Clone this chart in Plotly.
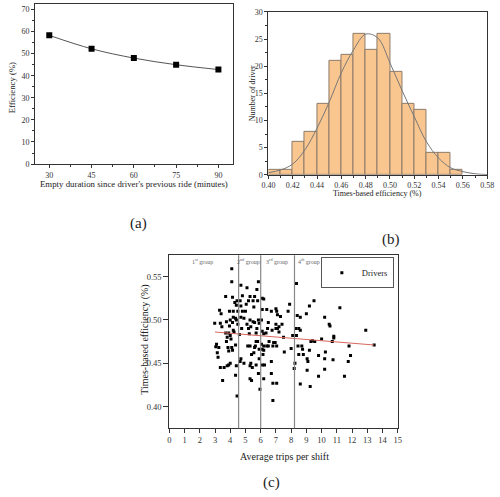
import plotly.graph_objects as go

# ---- Panel (a) data ----
dur_minutes = [30, 45, 60, 75, 90]
efficiency_pct = [58.3, 52.2, 48.0, 45.0, 42.8]

# ---- Panel (b) data ----
bin_left = [0.40, 0.41, 0.42, 0.43, 0.44, 0.45, 0.46, 0.47, 0.48, 0.49, 0.50, 0.51, 0.52, 0.53, 0.54, 0.55]
bin_count = [1, 1, 6, 8, 13, 21, 22, 26, 23, 26, 19, 13, 12, 4, 4, 1]
curve_x = [0.40, 0.41, 0.42, 0.43, 0.44, 0.45, 0.46, 0.47, 0.48, 0.49, 0.50, 0.51, 0.52, 0.53, 0.54, 0.55, 0.56, 0.57, 0.58]
curve_y = [0.4, 0.9, 2.0, 4.6, 8.6, 13.4, 18.8, 23.0, 25.9, 25.2, 20.6, 15.5, 10.7, 6.1, 3.1, 1.3, 0.6, 0.2, 0.05]

# ---- Panel (c) data ----
trips = [
    2.98, 3.05, 3.1, 3.15, 3.2, 3.25, 3.3, 3.4, 3.35, 3.45,
    3.35, 3.5, 3.6, 3.7, 3.75, 3.8, 3.7, 3.75, 3.85, 3.9,
    3.8, 3.9, 3.95, 4.0, 3.95, 3.9, 4.0, 4.05, 4.1, 4.1,
    4.15, 4.2, 4.2, 4.15, 4.2, 4.25, 4.1, 4.15, 4.0, 4.3,
    4.35, 4.4, 4.45, 4.4, 4.35, 4.4, 4.35, 4.45, 4.5, 4.5,
    4.7, 4.8, 4.65, 4.7, 4.8, 4.7, 4.9, 4.75, 4.6, 4.7,
    4.65, 4.9, 5.1, 5.05, 5.2, 5.3, 5.0, 5.1, 5.2, 5.3,
    5.35, 5.25, 5.15, 5.3, 5.4, 5.35, 5.3, 5.45, 5.3, 5.4,
    5.5, 5.55, 5.6, 5.75, 5.8, 5.85, 5.5, 5.6, 5.7, 5.65,
    5.6, 5.55, 5.7, 5.75, 5.85, 5.9, 5.8, 5.9, 5.7, 5.85,
    5.95, 5.9, 6.1, 6.2, 6.1, 6.05, 6.1, 6.2, 6.05, 6.1,
    6.15, 6.2, 6.2, 6.1, 6.25, 6.2, 6.4, 6.5, 6.45, 6.35,
    6.5, 6.4, 6.55, 6.7, 6.75, 6.8, 6.85, 6.7, 6.7, 6.8,
    6.8, 7.0, 7.05, 7.1, 7.0, 7.0, 7.1, 7.2, 6.95, 7.05,
    7.2, 7.05, 7.3, 7.4, 7.5, 7.55, 7.8, 7.9, 8.0, 8.1,
    8.2, 8.25, 8.35, 8.4, 8.3, 8.35, 8.45, 8.5, 8.5, 8.6,
    8.6, 8.7, 8.75, 8.8, 8.6, 9.0, 9.05, 9.1, 9.05, 9.2,
    9.25, 9.3, 9.2, 9.5, 9.4, 9.55, 9.8, 9.8, 10.0, 10.1,
    10.2, 10.25, 10.2, 10.2, 10.5, 10.55, 10.7, 10.75, 10.8, 10.8,
    11.2, 11.5, 11.8, 11.75, 11.9, 12.9, 13.45,
]
eff_times = [
    0.496, 0.469, 0.472, 0.462, 0.457, 0.468, 0.511, 0.507, 0.496, 0.492,
    0.445, 0.430, 0.445, 0.527, 0.498, 0.480, 0.485, 0.475, 0.468, 0.464,
    0.447, 0.448, 0.510, 0.500, 0.493, 0.485, 0.482, 0.478, 0.559, 0.544,
    0.526, 0.510, 0.503, 0.497, 0.488, 0.486, 0.468, 0.465, 0.450, 0.520,
    0.502, 0.517, 0.522, 0.500, 0.471, 0.447, 0.436, 0.412, 0.510, 0.495,
    0.540, 0.528, 0.522, 0.516, 0.510, 0.503, 0.502, 0.490, 0.483, 0.455,
    0.452, 0.450, 0.537, 0.518, 0.522, 0.527, 0.510, 0.495, 0.490, 0.500,
    0.492, 0.484, 0.470, 0.470, 0.460, 0.450, 0.447, 0.445, 0.432, 0.430,
    0.522, 0.515, 0.527, 0.535, 0.522, 0.544, 0.498, 0.497, 0.485, 0.470,
    0.468, 0.462, 0.475, 0.490, 0.500, 0.496, 0.475, 0.466, 0.448, 0.438,
    0.420, 0.455, 0.525, 0.524, 0.512, 0.500, 0.487, 0.484, 0.472, 0.466,
    0.460, 0.465, 0.470, 0.448, 0.448, 0.432, 0.512, 0.497, 0.490, 0.485,
    0.470, 0.470, 0.475, 0.510, 0.488, 0.470, 0.474, 0.452, 0.438, 0.427,
    0.407, 0.513, 0.510, 0.506, 0.495, 0.490, 0.490, 0.492, 0.474, 0.470,
    0.486, 0.427, 0.504, 0.495, 0.480, 0.463, 0.510, 0.518, 0.467, 0.482,
    0.444, 0.450, 0.542, 0.505, 0.490, 0.482, 0.470, 0.460, 0.490, 0.503,
    0.488, 0.470, 0.466, 0.460, 0.426, 0.507, 0.455, 0.452, 0.442, 0.465,
    0.423, 0.475, 0.516, 0.522, 0.476, 0.475, 0.459, 0.435, 0.478, 0.540,
    0.503, 0.463, 0.455, 0.443, 0.495, 0.493, 0.475, 0.454, 0.481, 0.479,
    0.514, 0.435, 0.470, 0.452, 0.459, 0.488, 0.471,
]
trend_x = [3.0, 13.45]
trend_y = [0.486, 0.471]
group_bounds = [4.55, 6.0, 8.22]
group_label_x = [2.2, 5.2, 7.1, 9.2]
group_labels = ["1<sup>st</sup> group", "2<sup>nd</sup> group", "3<sup>rd</sup> group", "4<sup>th</sup> group"]

FONT = "Times New Roman, Liberation Serif, DejaVu Serif, serif"
AX = "#333333"

fig = go.Figure()

# (a)
fig.add_trace(go.Scatter(
    x=dur_minutes, y=efficiency_pct, mode="lines+markers",
    line=dict(color="#555555", width=1, shape="spline"),
    marker=dict(symbol="square", size=6, color="black"),
    xaxis="x", yaxis="y", showlegend=False))

# (b)
fig.add_trace(go.Bar(
    x=[b + 0.005 for b in bin_left], y=bin_count, width=0.01,
    marker=dict(color="#FAC68F", line=dict(color="#8c7b6b", width=1)),
    xaxis="x2", yaxis="y2", showlegend=False))
fig.add_trace(go.Scatter(
    x=curve_x, y=curve_y, mode="lines",
    line=dict(color="#777777", width=1, shape="spline"),
    xaxis="x2", yaxis="y2", showlegend=False))

# (c)
fig.add_trace(go.Scatter(
    x=trips, y=eff_times, mode="markers", name="Drivers",
    marker=dict(symbol="square", size=3, color="black"),
    xaxis="x3", yaxis="y3", showlegend=True))
fig.add_trace(go.Scatter(
    x=trend_x, y=trend_y, mode="lines",
    line=dict(color="#d9675f", width=1),
    xaxis="x3", yaxis="y3", showlegend=False))

def ax(**kw):
    base = dict(showline=True, linecolor=AX, linewidth=1, mirror=True,
                ticks="outside", ticklen=3, tickcolor=AX, showgrid=False,
                zeroline=False, tickfont=dict(family=FONT, size=8, color="#333"))
    base.update(kw)
    return base

shapes = []
for gb in group_bounds:
    shapes.append(dict(type="line", xref="x3", yref="y3 domain", x0=gb, x1=gb, y0=0, y1=1,
                       line=dict(color="#888888", width=1.2)))

annotations = []
for gx, gl in zip(group_label_x, group_labels):
    annotations.append(dict(x=gx, y=0.568, xref="x3", yref="y3", text=gl, showarrow=False,
                            font=dict(family=FONT, size=6, color="#666")))

def txt(x, y, t, size, angle=0):
    annotations.append(dict(x=x, y=y, xref="paper", yref="paper", text=t, showarrow=False,
                            textangle=angle, xanchor="center", yanchor="middle",
                            font=dict(family=FONT, size=size, color="#222")))

H = 497.0
W = 500.0
txt(131 / W, 1 - 183 / H, "Empty duration since driver's previous ride (minutes)", 8.8)
txt(6 / W, 1 - 85 / H, "Efficiency (%)", 8.7, -90)
txt(135 / W, 1 - 224 / H, "(a)", 15)
txt(381 / W, 1 - 193 / H, "Times-based efficiency (%)", 8)
txt(252 / W, 1 - 91 / H, "Number of driver", 8, -90)
txt(395 / W, 1 - 240 / H, "(b)", 15)
txt(286 / W, 1 - 461 / H, "Average trips per shift", 10)
txt(142 / W, 1 - 342 / H, "Times-based efficiency (%)", 10, -90)
txt(272 / W, 1 - 487 / H, "(c)", 15)

fig.update_layout(
    width=500, height=497,
    margin=dict(l=0, r=0, t=0, b=0),
    paper_bgcolor="white", plot_bgcolor="white",
    font=dict(family=FONT, color="#222"),
    bargap=0,
    xaxis=ax(domain=[29 / W, 232 / W], range=[25, 95], tickvals=[30, 45, 60, 75, 90],
             minor=dict(ticks="outside", ticklen=2, dtick=7.5, tick0=30, tickcolor=AX), anchor="y"),
    yaxis=ax(domain=[1 - 163 / H, 1.0], range=[0, 72.5], dtick=10,
             minor=dict(ticks="outside", ticklen=2, dtick=5, tickcolor=AX), anchor="x"),
    xaxis2=ax(domain=[269 / W, 494 / W], range=[0.40, 0.58], dtick=0.02, tickformat=".2f",
              minor=dict(ticks="outside", ticklen=2, dtick=0.01, tickcolor=AX), anchor="y2"),
    yaxis2=ax(domain=[1 - 174 / H, 1 - 8 / H], range=[0, 30], dtick=5,
              minor=dict(ticks="outside", ticklen=2, dtick=2.5, tickcolor=AX), anchor="x2"),
    xaxis3=ax(domain=[167 / W, 402 / W], range=[0, 15], dtick=1, anchor="y3", ticklen=4,
              tickfont=dict(family=FONT, size=8.5, color="#333")),
    yaxis3=ax(domain=[1 - 432 / H, 1 - 256 / H], range=[0.375, 0.5745], ticklen=5,
              tickvals=[0.40, 0.45, 0.50, 0.55], tickformat=".2f", anchor="x3",
              tickfont=dict(family=FONT, size=8.5, color="#333")),
    legend=dict(x=398 / W, y=1 - 258 / H, xanchor="right", yanchor="top",
                bordercolor="#555", borderwidth=1, bgcolor="white",
                font=dict(family=FONT, size=8.5), itemwidth=30,
                tracegroupgap=0),
    shapes=shapes,
    annotations=annotations,
)

fig.write_html("out.html", config={"displayModeBar": False},
               post_script="document.body.style.margin='0';document.body.style.overflow='hidden';")
